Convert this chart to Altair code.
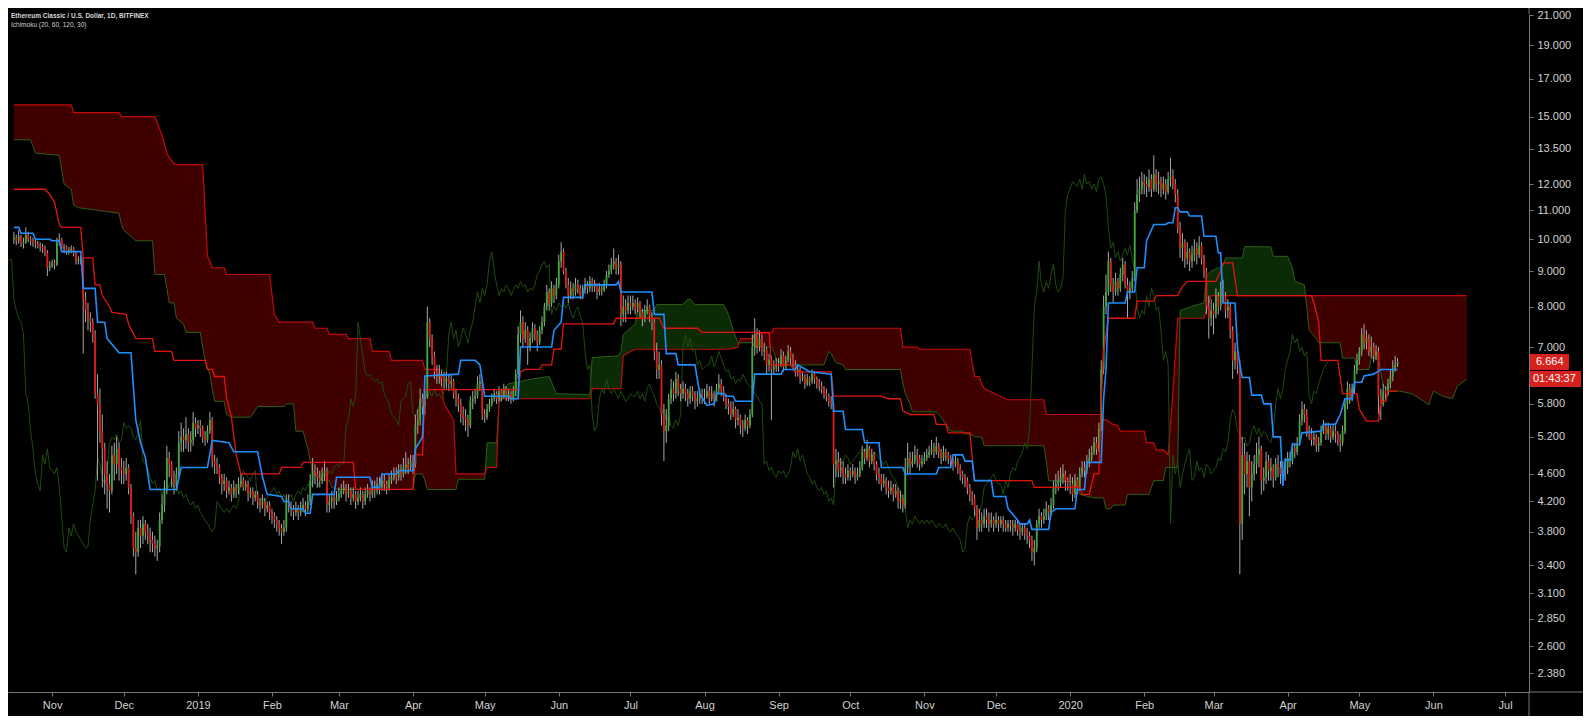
import altair as alt
import pandas as pd
from datetime import date, timedelta

# ---------------- data ----------------
START = date(2018, 10, 16)      # first daily candle
first_open = 10.0

close = [
    10.05, 9.95, 10.1, 9.85, 9.9, 10.15, 10.0, 9.95, 9.9, 9.85, 9.8, 9.75, 9.7, 9.55, 9.1, 9.15,
    9.25, 9.2, 9.9, 10.0, 9.7, 9.75, 9.6, 9.65, 9.7, 9.55, 9.3, 9.35, 9.35, 8.2, 7.9, 7.7, 7.6, 7.3, 6.0, 5.8, 5.3, 5.0, 4.6, 4.45, 4.35, 4.9, 4.75, 5.0, 4.7, 4.65,
    4.6, 4.7, 4.4, 4.0, 3.6, 3.55, 3.85, 3.75, 3.9, 3.8, 3.75, 3.7, 3.65, 3.6, 3.62, 3.95, 4.15, 4.35, 4.85, 4.75, 4.55, 4.45, 4.6, 5.1, 5.2, 5.15, 5.25, 5.1, 5.15, 5.45, 5.35,
    5.4, 5.35, 5.2, 5.15, 5.3, 5.5, 4.8, 4.75, 4.7, 4.55, 4.45, 4.5, 4.35, 4.4, 4.3, 4.4, 4.35, 4.45, 4.5, 4.4, 4.45, 4.3, 4.35, 4.25, 4.3, 4.2, 4.15, 4.2, 4.1, 4.15, 4.05,
    4.0, 3.95, 3.9, 3.85, 3.8, 3.85, 4.2, 4.15, 4.1, 4.05, 4.1, 4.05, 4.1, 4.15, 4.1, 4.2, 4.5, 4.65, 4.6, 4.55, 4.5, 4.6, 4.65, 4.15, 4.2, 4.25, 4.2, 4.25,
    4.3, 4.35, 4.4, 4.3, 4.35, 4.25, 4.3, 4.2, 4.25, 4.3, 4.2, 4.3, 4.35, 4.3, 4.4, 4.35, 4.45, 4.4, 4.5, 4.45, 4.4, 4.5, 4.55, 4.6, 4.55, 4.65, 4.6, 4.7, 4.75, 4.7, 4.8,
    4.75, 5.4, 5.5, 5.9, 5.75, 5.95, 7.6, 7.2, 6.8, 6.45, 6.35, 6.4, 6.3, 6.25, 6.3, 6.2, 6.25, 6.0, 5.9, 5.8, 5.6, 5.55, 5.5, 5.4, 5.85, 5.9, 5.95, 6.2, 6.25, 5.6,
    5.55, 5.7, 5.8, 5.9, 6.0, 5.9, 6.05, 5.95, 6.1, 5.95, 6.0, 5.9, 6.05, 6.4, 7.3, 7.6, 7.2, 7.4, 7.0, 7.2, 7.45, 7.3, 7.1, 7.4, 7.6, 8.0, 8.4, 8.1, 8.5, 8.3, 8.6,
    9.3, 9.6, 9.0, 8.6, 8.3, 8.5, 8.4, 8.6, 8.5, 8.3, 8.45, 8.6, 8.5, 8.7, 8.55, 8.6, 8.4, 8.5, 8.45, 8.6, 8.9, 9.0, 9.2, 9.3, 9.1, 9.2, 7.8, 8.0, 7.9, 8.1,
    8.0, 8.1, 7.95, 8.1, 7.85, 7.7, 7.9, 8.0, 7.75, 7.6, 6.9, 6.5, 6.6, 5.6, 5.3, 5.4, 5.9, 6.1, 6.0, 6.3, 6.1, 6.0, 6.1, 6.0, 5.9, 6.05, 5.95, 5.85, 5.9, 6.0, 5.95,
    5.95, 6.05, 5.9, 6.0, 5.85, 6.1, 6.2, 6.05, 5.95, 5.8, 5.75, 5.6, 5.7, 5.5, 5.55, 5.4, 5.35, 5.5, 5.4, 5.6, 7.0, 7.3, 7.0, 7.2, 6.9, 6.95, 6.6, 6.7, 6.5, 6.55, 6.6,
    6.6, 6.8, 6.55, 6.7, 6.9, 6.75, 6.6, 6.45, 6.5, 6.3, 6.35, 6.2, 6.3, 6.25, 6.4, 6.3, 6.2, 6.15, 6.1, 6.0, 5.95, 5.85, 5.8, 4.75, 4.8, 4.65, 4.7, 4.6, 4.55, 4.65,
    4.6, 4.65, 4.55, 4.6, 4.7, 4.95, 4.85, 5.0, 4.8, 4.9, 4.75, 4.6, 4.55, 4.45, 4.5, 4.4, 4.35, 4.4, 4.3, 4.35, 4.2, 4.25, 4.15, 4.7, 4.85, 4.75, 4.8, 4.9, 4.85, 4.75, 4.8,
    4.85, 4.9, 4.95, 5.0, 4.95, 5.05, 4.95, 4.85, 4.95, 4.9, 4.85, 4.8, 4.75, 4.8, 4.7, 4.6, 4.55, 4.5, 4.4, 4.3, 4.25, 4.1, 3.85, 3.95, 3.9, 4.0, 3.95, 3.9, 3.95, 3.9,
    3.95, 3.9, 3.95, 3.9, 3.85, 3.9, 3.88, 3.85, 3.9, 3.82, 3.8, 3.85, 3.78, 3.75, 3.7, 3.55, 3.6, 3.9, 4.0, 3.95, 4.0, 4.1, 4.05, 4.15, 4.4, 4.45, 4.5, 4.55, 4.6, 4.5, 4.45,
    4.45, 4.3, 4.5, 4.4, 4.6, 4.7, 4.65, 4.8, 4.85, 4.95, 5.1, 5.0, 5.35, 6.5, 8.0, 8.4, 9.3, 8.6, 8.4, 8.7, 8.5, 8.9, 9.2, 8.6, 8.4, 8.5, 8.8, 11.0, 11.6, 11.8, 12.1,
    12.0, 11.9, 12.2, 11.8, 12.4, 12.0, 12.1, 11.8, 12.0, 11.7, 12.2, 12.3, 12.0, 11.6, 10.4, 9.7, 9.9, 9.4, 9.6, 9.3, 9.5, 9.7, 9.5, 9.8, 9.4, 9.0, 8.0, 7.7, 7.9,
    7.8, 8.3, 8.0, 8.5, 8.3, 7.9, 8.0, 7.4, 6.7, 6.9, 6.6, 3.9, 4.9, 4.6, 4.8, 4.4, 4.6, 4.75, 4.9, 5.0, 4.5, 4.55, 4.8, 4.65, 4.7, 4.55, 4.75, 4.7, 4.6, 4.65, 4.7,
    4.85, 4.8, 5.0, 4.95, 5.1, 5.5, 5.7, 5.6, 5.3, 5.25, 5.15, 5.2, 5.05, 5.1, 5.3, 5.4, 5.25, 5.35, 5.2, 5.3, 5.25, 5.15, 5.1, 5.3, 5.8, 6.1, 5.9, 6.1, 6.5, 6.7,
    6.9, 7.3, 7.1, 7.2, 6.9, 7.0, 6.8, 6.9, 5.95, 5.8, 6.05, 6.0, 6.2, 6.35, 6.5, 6.6, 6.664,
]

high = [
    10.25, 10.15, 10.3, 10.15, 10.05, 10.4, 10.25, 10.1, 10.05, 10.0, 9.95, 9.9, 9.85, 9.8, 9.65, 9.3,
    9.35, 9.35, 10.05, 10.2, 10.05, 9.85, 9.8, 9.75, 9.8, 9.75, 9.6, 9.45, 9.45, 9.4, 8.4, 8.1, 7.85, 7.7, 7.4, 6.4, 6.1, 5.6, 5.1, 4.8, 4.6, 5.05, 5.1, 5.2, 5.1, 4.85,
    4.8, 4.85, 4.75, 4.45, 4.05, 3.8, 3.95, 3.95, 4.0, 3.95, 3.9, 3.85, 3.8, 3.75, 3.7, 4.05, 4.3, 4.5, 5.05, 4.95, 4.8, 4.65, 4.7, 5.3, 5.45, 5.35, 5.55, 5.35, 5.3, 5.65, 5.55,
    5.5, 5.5, 5.4, 5.3, 5.4, 5.65, 5.55, 4.9, 4.85, 4.75, 4.6, 4.6, 4.55, 4.5, 4.45, 4.5, 4.45, 4.55, 4.6, 4.55, 4.5, 4.5, 4.4, 4.4, 4.35, 4.35, 4.25, 4.3, 4.25, 4.2, 4.2,
    4.1, 4.05, 4.0, 3.95, 3.9, 3.95, 4.3, 4.3, 4.2, 4.15, 4.2, 4.15, 4.2, 4.25, 4.2, 4.3, 4.6, 4.85, 4.75, 4.7, 4.65, 4.7, 4.8, 4.7, 4.3, 4.35, 4.3, 4.35,
    4.4, 4.45, 4.5, 4.45, 4.45, 4.4, 4.4, 4.35, 4.35, 4.4, 4.35, 4.4, 4.45, 4.4, 4.5, 4.5, 4.55, 4.55, 4.6, 4.6, 4.5, 4.6, 4.65, 4.7, 4.7, 4.75, 4.75, 4.85, 4.95, 4.85, 4.9,
    4.9, 5.6, 5.7, 6.1, 6.0, 6.1, 8.0, 7.7, 7.3, 6.9, 6.6, 6.6, 6.5, 6.45, 6.45, 6.4, 6.4, 6.3, 6.1, 6.0, 5.9, 5.75, 5.7, 5.6, 5.95, 6.05, 6.1, 6.35, 6.4, 6.3,
    5.7, 5.8, 5.9, 6.0, 6.1, 6.05, 6.15, 6.1, 6.2, 6.15, 6.1, 6.05, 6.15, 6.5, 7.5, 7.9, 7.75, 7.6, 7.5, 7.35, 7.6, 7.55, 7.4, 7.5, 7.75, 8.1, 8.6, 8.5, 8.7, 8.6, 8.8,
    9.5, 9.9, 9.7, 9.1, 8.8, 8.7, 8.65, 8.8, 8.75, 8.6, 8.6, 8.8, 8.7, 8.85, 8.8, 8.75, 8.65, 8.65, 8.6, 8.75, 9.0, 9.2, 9.4, 9.7, 9.4, 9.5, 9.3, 8.3, 8.2, 8.3,
    8.3, 8.3, 8.2, 8.25, 8.15, 7.95, 8.05, 8.2, 8.05, 7.85, 7.7, 7.1, 6.9, 6.7, 5.8, 5.7, 6.0, 6.3, 6.25, 6.45, 6.4, 6.2, 6.25, 6.2, 6.1, 6.15, 6.15, 6.05, 6.05, 6.1, 6.1,
    6.1, 6.2, 6.15, 6.15, 6.05, 6.2, 6.4, 6.3, 6.15, 6.0, 5.9, 5.85, 5.85, 5.75, 5.7, 5.6, 5.5, 5.6, 5.55, 5.7, 7.3, 7.7, 7.45, 7.4, 7.3, 7.1, 7.0, 6.85, 6.8, 6.7, 6.75,
    6.75, 6.95, 6.9, 6.8, 7.05, 7.0, 6.85, 6.7, 6.6, 6.55, 6.45, 6.4, 6.4, 6.35, 6.5, 6.45, 6.35, 6.3, 6.25, 6.15, 6.1, 6.0, 5.95, 5.85, 5.0, 4.95, 4.85, 4.8, 4.7, 4.75,
    4.7, 4.75, 4.7, 4.7, 4.8, 5.05, 5.0, 5.15, 5.05, 5.0, 4.95, 4.8, 4.7, 4.6, 4.6, 4.55, 4.5, 4.5, 4.45, 4.45, 4.4, 4.35, 4.3, 4.85, 5.1, 4.95, 4.95, 5.05, 5.0, 4.9, 4.9,
    4.95, 5.0, 5.05, 5.15, 5.1, 5.2, 5.1, 5.0, 5.05, 5.0, 4.95, 4.9, 4.85, 4.9, 4.85, 4.75, 4.65, 4.6, 4.55, 4.45, 4.35, 4.3, 4.15, 4.1, 4.05, 4.1, 4.1, 4.05, 4.05, 4.0,
    4.05, 4.0, 4.0, 4.0, 3.95, 3.95, 3.95, 3.95, 3.95, 3.95, 3.9, 3.9, 3.9, 3.85, 3.8, 3.75, 3.7, 3.95, 4.1, 4.05, 4.1, 4.2, 4.15, 4.25, 4.5, 4.6, 4.65, 4.7, 4.75, 4.65, 4.55,
    4.6, 4.55, 4.6, 4.55, 4.7, 4.8, 4.8, 4.9, 5.0, 5.05, 5.2, 5.2, 5.45, 6.7, 8.3, 8.9, 9.6, 9.4, 8.8, 8.95, 8.8, 9.1, 9.4, 9.3, 8.8, 8.7, 9.0, 11.3, 12.2, 12.3, 12.5,
    12.4, 12.3, 12.6, 12.4, 13.2, 12.6, 12.5, 12.3, 12.3, 12.2, 12.5, 13.1, 12.6, 12.2, 11.8, 10.6, 10.2, 10.0, 9.9, 9.7, 9.8, 10.0, 9.9, 10.1, 9.9, 9.5, 9.1, 8.3, 8.2,
    8.1, 8.5, 8.4, 8.7, 8.75, 8.4, 8.2, 8.1, 7.5, 7.1, 7.0, 6.7, 5.2, 5.1, 4.95, 4.9, 4.8, 4.9, 5.1, 5.2, 5.05, 4.7, 4.95, 4.9, 4.85, 4.75, 4.85, 4.9, 4.8, 4.8, 4.85,
    4.95, 4.95, 5.1, 5.1, 5.2, 5.6, 5.85, 5.8, 5.7, 5.4, 5.35, 5.3, 5.25, 5.2, 5.4, 5.5, 5.45, 5.45, 5.4, 5.4, 5.4, 5.3, 5.25, 5.4, 5.9, 6.25, 6.2, 6.2, 6.6, 6.85,
    7.0, 7.45, 7.55, 7.4, 7.3, 7.25, 7.1, 7.05, 7.0, 6.1, 6.2, 6.15, 6.3, 6.5, 6.7, 6.8, 6.75,
]

low = [
    9.85, 9.8, 9.85, 9.75, 9.7, 9.85, 9.9, 9.8, 9.75, 9.7, 9.7, 9.6, 9.55, 9.45, 8.85, 9.0,
    9.1, 9.05, 9.15, 9.8, 9.6, 9.55, 9.5, 9.5, 9.55, 9.45, 9.2, 9.2, 9.2, 6.85, 7.6, 7.4, 7.35, 7.1, 5.9, 4.5, 5.1, 4.4, 4.3, 4.1, 4.05, 4.3, 4.5, 4.6, 4.5, 4.45,
    4.45, 4.5, 4.3, 3.9, 3.5, 3.3, 3.5, 3.6, 3.65, 3.7, 3.65, 3.55, 3.55, 3.5, 3.45, 3.55, 3.9, 4.05, 4.3, 4.55, 4.4, 4.3, 4.35, 4.55, 4.95, 4.95, 5.0, 4.95, 4.95, 5.05, 5.2,
    5.25, 5.2, 5.1, 5.05, 5.1, 5.25, 4.7, 4.6, 4.6, 4.45, 4.3, 4.35, 4.25, 4.3, 4.2, 4.25, 4.25, 4.3, 4.4, 4.35, 4.35, 4.2, 4.25, 4.15, 4.2, 4.1, 4.05, 4.1, 4.0, 4.05, 3.95,
    3.9, 3.85, 3.8, 3.75, 3.65, 3.75, 3.8, 4.05, 4.0, 3.95, 4.0, 3.95, 4.0, 4.05, 4.0, 4.05, 4.15, 4.4, 4.45, 4.4, 4.4, 4.45, 4.5, 4.05, 4.05, 4.1, 4.1, 4.15,
    4.2, 4.25, 4.3, 4.2, 4.25, 4.15, 4.2, 4.1, 4.15, 4.2, 4.1, 4.15, 4.25, 4.2, 4.25, 4.25, 4.3, 4.3, 4.35, 4.35, 4.3, 4.35, 4.45, 4.5, 4.45, 4.5, 4.5, 4.55, 4.6, 4.6, 4.65,
    4.6, 4.7, 5.25, 5.4, 5.6, 5.6, 5.9, 7.0, 6.6, 6.3, 6.2, 6.2, 6.15, 6.1, 6.1, 6.05, 6.1, 5.9, 5.75, 5.65, 5.45, 5.4, 5.3, 5.2, 5.35, 5.7, 5.8, 5.9, 6.05, 5.5,
    5.45, 5.5, 5.65, 5.75, 5.85, 5.8, 5.85, 5.85, 5.9, 5.85, 5.85, 5.8, 5.85, 5.95, 6.3, 7.1, 7.0, 7.1, 6.6, 6.9, 7.1, 7.15, 6.9, 7.05, 7.3, 7.5, 7.9, 7.9, 8.0, 8.1, 8.2,
    8.5, 9.1, 8.9, 8.5, 8.1, 8.2, 8.2, 8.3, 8.35, 8.2, 8.2, 8.35, 8.35, 8.4, 8.4, 8.4, 8.2, 8.3, 8.3, 8.4, 8.5, 8.8, 8.9, 9.05, 8.9, 8.9, 7.5, 7.6, 7.6, 7.8,
    7.8, 7.9, 7.8, 7.85, 7.7, 7.5, 7.6, 7.8, 7.6, 7.4, 6.7, 6.3, 6.3, 5.4, 4.8, 5.1, 5.3, 5.8, 5.85, 5.9, 5.95, 5.85, 5.9, 5.85, 5.75, 5.8, 5.85, 5.7, 5.75, 5.8, 5.8,
    5.8, 5.9, 5.8, 5.85, 5.75, 5.85, 6.0, 5.95, 5.85, 5.7, 5.6, 5.5, 5.55, 5.35, 5.4, 5.25, 5.2, 5.3, 5.25, 5.35, 5.55, 6.8, 6.85, 6.9, 6.8, 6.7, 6.4, 6.45, 5.5, 6.4, 6.45,
    6.45, 6.55, 6.45, 6.5, 6.65, 6.6, 6.5, 6.35, 6.35, 6.2, 6.25, 6.1, 6.15, 6.15, 6.2, 6.2, 6.1, 6.05, 6.0, 5.9, 5.85, 5.75, 5.7, 4.4, 4.55, 4.55, 4.55, 4.45, 4.45, 4.5,
    4.5, 4.55, 4.45, 4.5, 4.55, 4.65, 4.75, 4.8, 4.7, 4.75, 4.65, 4.5, 4.45, 4.35, 4.4, 4.3, 4.25, 4.3, 4.2, 4.25, 4.1, 4.1, 4.05, 4.1, 4.6, 4.6, 4.7, 4.75, 4.7, 4.65, 4.7,
    4.75, 4.8, 4.85, 4.9, 4.85, 4.9, 4.85, 4.75, 4.8, 4.8, 4.75, 4.7, 4.65, 4.7, 4.6, 4.5, 4.45, 4.4, 4.3, 4.2, 4.15, 4.0, 3.7, 3.8, 3.8, 3.85, 3.85, 3.8, 3.85, 3.8,
    3.85, 3.8, 3.85, 3.8, 3.8, 3.8, 3.8, 3.75, 3.8, 3.75, 3.7, 3.75, 3.7, 3.65, 3.6, 3.45, 3.4, 3.55, 3.85, 3.85, 3.9, 3.95, 3.95, 4.0, 4.1, 4.3, 4.35, 4.4, 4.45, 4.35, 4.35,
    4.3, 4.2, 4.25, 4.3, 4.35, 4.55, 4.55, 4.6, 4.7, 4.8, 4.9, 4.9, 4.95, 5.3, 6.4, 7.8, 8.3, 8.4, 8.1, 8.3, 8.3, 8.4, 8.7, 8.5, 7.7, 8.2, 8.4, 8.7, 10.9, 11.3, 11.6,
    11.6, 11.5, 11.7, 11.5, 11.7, 11.7, 11.6, 11.5, 11.6, 11.4, 11.6, 11.9, 11.8, 11.3, 10.2, 9.4, 9.3, 9.1, 9.2, 9.0, 9.1, 9.3, 9.2, 9.4, 9.2, 8.8, 7.8, 7.2, 7.5,
    7.3, 7.7, 7.8, 7.9, 8.1, 7.7, 7.7, 7.2, 6.3, 6.5, 6.4, 3.3, 3.7, 4.3, 4.4, 4.0, 4.2, 4.5, 4.6, 4.7, 4.3, 4.35, 4.45, 4.5, 4.5, 4.4, 4.5, 4.55, 4.45, 4.5, 4.5,
    4.6, 4.7, 4.75, 4.85, 4.9, 5.05, 5.4, 5.45, 5.2, 5.15, 5.05, 5.05, 4.95, 4.95, 5.05, 5.25, 5.15, 5.15, 5.1, 5.15, 5.1, 5.05, 4.95, 5.05, 5.25, 5.7, 5.8, 5.85, 6.0, 6.4,
    6.6, 6.8, 6.95, 6.95, 6.8, 6.75, 6.65, 6.7, 5.6, 5.5, 5.75, 5.85, 5.95, 6.1, 6.25, 6.45, 6.55,
]

# Ichimoku lines: (day index from START, value)
tenkan_points = [
    (0, 10.4), (2, 10.4), (3, 10.2), (8, 10.2), (9, 10.0), (15, 10.0), (16, 9.95), (19, 9.95), (20, 9.6), (28, 9.6),
    (29, 8.5), (34, 8.5), (35, 7.6), (38, 7.6), (39, 7.2), (42, 7.0), (44, 6.87), (49, 6.87), (51, 5.5), (53, 5.1),
    (55, 4.86), (57, 4.37), (68, 4.37), (70, 4.7), (81, 4.7), (83, 5.14), (90, 5.1), (92, 4.95), (102, 4.95), (104, 4.56),
    (106, 4.3), (112, 4.27), (113, 4.2), (115, 4.2), (116, 4.1), (121, 4.1), (122, 4.04), (124, 4.04), (125, 4.3), (134, 4.3),
    (135, 4.55), (149, 4.55), (150, 4.4), (153, 4.4), (154, 4.6), (160, 4.6), (161, 4.65), (167, 4.65), (168, 5.0), (171, 5.2),
    (172, 6.36), (186, 6.4), (187, 6.7), (193, 6.7), (195, 6.6), (197, 5.95), (207, 5.95), (208, 5.9), (211, 5.9), (212, 7.0),
    (225, 7.0), (226, 7.4), (229, 7.6), (230, 8.25), (238, 8.25), (239, 8.6), (252, 8.6), (253, 8.7), (254, 8.4), (267, 8.4),
    (268, 7.8), (272, 7.8), (273, 6.85), (277, 6.85), (278, 6.6), (285, 6.6), (287, 6.0), (290, 5.77), (293, 5.8), (294, 6.0),
    (297, 6.0), (298, 5.95), (301, 5.95), (302, 5.85), (309, 5.85), (310, 6.4), (321, 6.4), (322, 6.5), (327, 6.5), (328, 6.6),
    (333, 6.45), (342, 6.4), (343, 5.66), (347, 5.66), (348, 5.33), (355, 5.33), (356, 5.1), (362, 5.1), (363, 4.7), (372, 4.7),
    (373, 4.6), (386, 4.6), (387, 4.7), (392, 4.7), (393, 4.9), (397, 4.9), (398, 4.8), (401, 4.8), (402, 4.5), (409, 4.5),
    (410, 4.27), (415, 4.27), (416, 4.1), (420, 3.95), (421, 3.9), (424, 3.9), (425, 3.95), (426, 3.83), (433, 3.83), (434, 4.05),
    (436, 4.1), (444, 4.1), (445, 4.37), (448, 4.37), (449, 4.78), (455, 4.78), (456, 5.9), (457, 6.5), (458, 8.1), (465, 8.1),
    (466, 8.4), (469, 8.4), (470, 9.1), (473, 9.1), (474, 9.95), (477, 10.5), (482, 10.5), (483, 10.56), (485, 10.56), (486, 11.1),
    (487, 11.1), (488, 10.95), (491, 10.95), (492, 10.8), (497, 10.8), (498, 10.1), (503, 10.1), (504, 9.56), (505, 9.56), (506, 8.1),
    (511, 8.1), (512, 7.0), (513, 6.6), (514, 6.33), (517, 6.33), (518, 5.97), (522, 5.97), (523, 5.8), (526, 5.8), (527, 5.2),
    (530, 5.2), (531, 4.42), (532, 4.82), (534, 4.82), (535, 5.07), (538, 5.07), (539, 5.27), (547, 5.3), (548, 5.42), (553, 5.42),
    (555, 5.6), (557, 5.9), (560, 5.9), (561, 6.23), (564, 6.23), (565, 6.36), (569, 6.4), (572, 6.5), (579, 6.5),
]

kijun_points = [
    (0, 11.8), (13, 11.8), (15, 11.6), (17, 11.3), (19, 10.5), (20, 10.4), (28, 10.4), (29, 9.4), (33, 9.4), (34, 8.6),
    (36, 8.6), (37, 8.3), (40, 8.0), (41, 7.85), (47, 7.8), (48, 7.55), (51, 7.2), (58, 7.2), (59, 6.9), (66, 6.9),
    (67, 6.7), (80, 6.7), (81, 6.5), (83, 6.5), (84, 6.35), (88, 6.35), (89, 5.9), (91, 5.55), (93, 4.9), (95, 4.6),
    (111, 4.6), (112, 4.7), (120, 4.7), (121, 4.78), (142, 4.78), (143, 4.37), (167, 4.37), (168, 4.9), (171, 4.9), (172, 6.08),
    (211, 6.08), (212, 6.45), (214, 6.5), (220, 6.5), (221, 6.6), (225, 6.6), (226, 6.95), (229, 6.95), (230, 7.56), (251, 7.56),
    (252, 7.7), (270, 7.7), (272, 7.45), (286, 7.45), (288, 7.35), (316, 7.35), (317, 6.6), (325, 6.6), (327, 6.45), (342, 6.45),
    (343, 5.95), (363, 5.95), (366, 5.9), (371, 5.9), (372, 5.67), (375, 5.6), (385, 5.6), (386, 5.42), (390, 5.42), (391, 5.27),
    (400, 5.27), (402, 4.5), (426, 4.5), (427, 4.4), (446, 4.4), (447, 4.3), (450, 4.3), (452, 4.6), (454, 4.6), (455, 5.9),
    (456, 6.9), (458, 7.7), (469, 7.7), (470, 8.15), (477, 8.15), (478, 8.3), (487, 8.3), (489, 8.55), (491, 8.7), (503, 8.7),
    (505, 9.0), (506, 9.25), (510, 9.25), (512, 8.3), (543, 8.3), (544, 8.1), (546, 7.6), (547, 6.7), (554, 6.7), (556, 6.0),
    (562, 6.0), (563, 5.7), (566, 5.48), (571, 5.48), (572, 5.85), (574, 5.85), (575, 6.05), (579, 6.05),
]

# (day index, leading span A, leading span B) -- already displaced forward
cloud_points = [
    (0, 13.9, 15.6), (7, 13.9, 15.6), (9, 13.3, 15.6), (19, 13.2, 15.6), (21, 12.0, 15.6), (24, 11.8, 15.6), (25, 11.2, 15.2),
    (27, 11.1, 15.2), (44, 10.9, 15.2), (45, 10.5, 15.0), (46, 10.3, 15.0), (49, 10.1, 15.0), (51, 9.95, 15.0), (58, 9.95, 15.0),
    (59, 8.9, 15.0), (62, 8.9, 14.1), (63, 8.9, 13.7), (64, 8.5, 13.3), (65, 8.1, 13.1), (67, 8.1, 12.85), (68, 7.7, 12.8),
    (71, 7.55, 12.8), (72, 7.35, 12.8), (78, 7.35, 12.8), (79, 7.0, 12.8), (80, 6.7, 11.0), (81, 6.55, 9.45), (82, 6.4, 9.3),
    (83, 6.1, 9.1), (84, 5.85, 9.1), (88, 5.85, 9.1), (89, 5.6, 8.9), (91, 5.55, 8.9), (99, 5.55, 8.9), (102, 5.75, 8.9),
    (107, 5.75, 8.9), (109, 5.75, 7.8), (111, 5.75, 7.6), (113, 5.75, 7.6), (114, 5.8, 7.6), (117, 5.8, 7.6), (118, 5.3, 7.6),
    (121, 5.3, 7.6), (123, 5.0, 7.6), (125, 4.6, 7.6), (126, 4.6, 7.45), (129, 4.5, 7.45), (131, 4.5, 7.45), (132, 4.5, 7.3),
    (133, 4.4, 7.3), (136, 4.37, 7.3), (139, 4.37, 7.3), (140, 4.37, 7.2), (149, 4.37, 7.2), (150, 4.37, 6.9), (157, 4.37, 6.9),
    (158, 4.37, 6.7), (167, 4.37, 6.7), (168, 4.6, 6.7), (171, 4.6, 6.7), (172, 4.5, 6.5), (173, 4.37, 6.5), (178, 4.37, 6.5),
    (180, 4.37, 5.8), (184, 4.37, 5.5), (185, 4.37, 4.6), (186, 4.52, 4.6), (197, 4.52, 4.6), (198, 5.1, 4.7), (202, 5.1, 4.7),
    (203, 5.8, 5.9), (205, 6.1, 5.9), (207, 6.2, 5.9), (217, 6.3, 5.9), (224, 6.35, 5.9), (227, 6.0, 5.9), (241, 5.98, 5.9),
    (242, 6.76, 6.1), (253, 6.8, 6.1), (254, 6.9, 6.1), (255, 7.3, 6.8), (258, 7.45, 6.9), (260, 7.56, 6.95), (261, 7.9, 6.95),
    (268, 7.9, 6.95), (269, 8.06, 6.95), (280, 8.06, 6.95), (282, 8.2, 6.95), (283, 8.2, 6.95), (285, 8.06, 6.95), (297, 8.06, 6.95),
    (299, 7.8, 6.95), (301, 7.4, 6.97), (303, 7.1, 7.0), (304, 7.1, 7.2), (309, 7.1, 7.2), (310, 7.0, 7.3), (317, 7.0, 7.35),
    (318, 6.9, 7.45), (319, 6.7, 7.45), (322, 6.6, 7.45), (339, 6.6, 7.45), (341, 6.9, 7.45), (342, 6.85, 7.45), (344, 6.65, 7.45),
    (347, 6.6, 7.45), (348, 6.5, 7.45), (371, 6.5, 7.45), (372, 6.2, 7.0), (373, 6.0, 7.0), (375, 5.8, 7.0), (376, 5.65, 7.0),
    (378, 5.65, 7.0), (379, 5.65, 6.95), (386, 5.65, 6.95), (388, 5.55, 6.95), (392, 5.3, 6.95), (397, 5.3, 6.95), (398, 5.25, 6.95),
    (400, 5.25, 6.95), (402, 5.2, 6.35), (404, 5.2, 6.35), (405, 5.2, 6.2), (406, 5.05, 6.1), (415, 5.05, 5.9), (416, 5.05, 5.88),
    (431, 5.05, 5.88), (432, 4.8, 5.6), (433, 4.5, 5.6), (444, 4.48, 5.6), (446, 4.3, 5.6), (452, 4.25, 5.6), (455, 4.25, 5.6),
    (456, 4.25, 5.5), (457, 4.1, 5.5), (459, 4.1, 5.45), (460, 4.15, 5.42), (462, 4.15, 5.4), (463, 4.15, 5.3), (465, 4.15, 5.3),
    (466, 4.3, 5.3), (473, 4.3, 5.3), (474, 4.3, 5.1), (475, 4.3, 5.1), (477, 4.5, 5.1), (478, 4.5, 4.98), (481, 4.5, 4.98),
    (482, 4.7, 4.95), (483, 4.7, 4.9), (485, 4.7, 6.0), (487, 4.7, 7.7), (488, 7.9, 7.7), (495, 8.05, 7.7), (498, 8.1, 7.7),
    (499, 8.85, 7.9), (501, 9.0, 8.3), (506, 9.15, 8.3), (507, 9.4, 8.3), (514, 9.4, 8.3), (515, 9.76, 8.3), (526, 9.75, 8.3),
    (527, 9.45, 8.3), (533, 9.45, 8.3), (535, 9.1, 8.3), (536, 8.7, 8.3), (540, 8.6, 8.3), (541, 8.0, 8.3), (542, 7.4, 8.3),
    (545, 7.2, 8.3), (546, 7.1, 8.3), (555, 7.1, 8.3), (556, 6.75, 8.3), (561, 6.75, 8.3), (562, 6.5, 8.3), (567, 6.5, 8.3),
    (568, 6.75, 8.3), (571, 6.75, 8.3), (573, 6.15, 8.3), (576, 6.05, 8.3), (580, 6.05, 8.3), (585, 6.0, 8.3), (590, 5.85, 8.3),
    (592, 5.78, 8.3), (594, 6.05, 8.3), (598, 5.95, 8.3), (602, 5.9, 8.3), (604, 6.15, 8.3), (608, 6.3, 8.3),
]

LAGGING_SHIFT = 29
y_ticks = [2.38, 2.6, 2.85, 3.1, 3.4, 3.8, 4.2, 4.6, 5.2, 5.8, 7.0, 8.0, 9.0, 10.0,
           11.0, 12.0, 13.5, 15.0, 17.0, 19.0, 21.0]
month_ticks = [(2018, 11), (2018, 12), (2019, 1), (2019, 2), (2019, 3), (2019, 4), (2019, 5),
               (2019, 6), (2019, 7), (2019, 8), (2019, 9), (2019, 10), (2019, 11), (2019, 12),
               (2020, 1), (2020, 2), (2020, 3), (2020, 4), (2020, 5), (2020, 6), (2020, 7)]
last_price = 6.664
countdown = "01:43:37"
title_1 = "Ethereum Classic / U.S. Dollar, 1D, BITFINEX"
title_2 = "Ichimoku (20, 60, 120, 30)"

# ---------------- tables ----------------
def ts(d):
    return (START + timedelta(days=d)).strftime("%Y-%m-%dT00:00:00")

n = min(len(close), len(high), len(low))
opens = [first_open] + close[: n - 1]
candles = pd.DataFrame({
    "date": [ts(i) for i in range(n)],
    "open": opens, "high": high[:n], "low": low[:n], "close": close[:n],
})
lagging = pd.DataFrame({"date": [ts(i - LAGGING_SHIFT) for i in range(n)], "value": close[:n]})
tenkan = pd.DataFrame({"date": [ts(d) for d, v in tenkan_points], "value": [v for d, v in tenkan_points]})
kijun = pd.DataFrame({"date": [ts(d) for d, v in kijun_points], "value": [v for d, v in kijun_points]})
cloud = pd.DataFrame({"date": [ts(d) for d, a, b in cloud_points],
                      "a": [a for d, a, b in cloud_points],
                      "b": [b for d, a, b in cloud_points]})
price_df = pd.DataFrame({"p": [last_price], "label": [f"{last_price:.3f}"], "timer": [countdown]})
one = pd.DataFrame({"k": [0]})

# ---------------- styling ----------------
TOP = 6
W, H = 1521, 684 - TOP
AXIS_GRAY = "#787878"
LABEL = "#d2d2d2"
FONT = "Liberation Sans"

xs = alt.Scale(domain=[alt.DateTime(year=2018, month=10, date=15, hours=15),
                       alt.DateTime(year=2020, month=7, date=8, hours=22)])
ys = alt.Scale(type="log", domain=[2.236, 21.07], nice=False)

x_axis = alt.Axis(
    values=[alt.DateTime(year=y, month=m, date=1) for (y, m) in month_ticks],
    labelExpr="month(datum.value) == 0 ? timeFormat(datum.value, '%Y') : timeFormat(datum.value, '%b')",
    title=None, grid=False, domainColor=AXIS_GRAY, tickColor=AXIS_GRAY, tickSize=4,
    labelColor=LABEL, labelFont=FONT, labelFontSize=11, labelPadding=3,
    labelFlush=False, labelOverlap=False,
)
y_axis = alt.Axis(
    orient="right", values=y_ticks, format=".3f", title=None, grid=False,
    domainColor=AXIS_GRAY, tickColor=AXIS_GRAY, tickSize=4,
    labelColor=LABEL, labelFont=FONT, labelFontSize=11, labelPadding=4,
    labelFlush=False, labelOverlap=False,
)

def X(field="date"):
    return alt.X(field, type="temporal", scale=xs, axis=x_axis)

def Y(field):
    return alt.Y(field, type="quantitative", scale=ys, axis=y_axis)

cloud_base = alt.Chart(cloud).transform_calculate(lo="min(datum.a, datum.b)")
red_cloud = cloud_base.mark_area(color="#3f0000", opacity=1, clip=True).encode(
    x=X(), y=Y("b"), y2=alt.Y2("lo:Q"))
green_cloud = cloud_base.mark_area(color="#0a2b06", opacity=1, clip=True).encode(
    x=X(), y=Y("a"), y2=alt.Y2("lo:Q"))
span_a_line = alt.Chart(cloud).mark_line(color="#2e5e16", strokeWidth=1, clip=True).encode(x=X(), y=Y("a"))
span_b_line = alt.Chart(cloud).mark_line(color="#c00a0a", strokeWidth=1.2, clip=True).encode(x=X(), y=Y("b"))
lag_line = alt.Chart(lagging).mark_line(color="#1f4c0e", strokeWidth=1, clip=True).encode(x=X(), y=Y("value"))

cbase = alt.Chart(candles).transform_calculate(
    lo2="min(datum.low, datum.open, datum.close)",
    hi2="max(datum.high, datum.open, datum.close)",
)
wicks = cbase.mark_rule(color="#a8a8a8", strokeWidth=1, clip=True).encode(
    x=X(), y=Y("lo2"), y2=alt.Y2("hi2:Q"))
up_bodies = cbase.transform_filter("datum.close >= datum.open").mark_bar(
    color="#3fa83a", size=1.8, clip=True).encode(x=X(), y=Y("open"), y2=alt.Y2("close:Q"))
down_bodies = cbase.transform_filter("datum.close < datum.open").mark_bar(
    color="#e01a14", size=1.8, clip=True).encode(x=X(), y=Y("open"), y2=alt.Y2("close:Q"))

kijun_line = alt.Chart(kijun).mark_line(color="#e3140c", strokeWidth=1.3, clip=True).encode(x=X(), y=Y("value"))
tenkan_line = alt.Chart(tenkan).mark_line(color="#1e8fff", strokeWidth=1.6, clip=True).encode(x=X(), y=Y("value"))

TAG_RED = "#d8201c"
tag1 = alt.Chart(price_df).mark_rule(color=TAG_RED, strokeWidth=16, strokeCap="butt").encode(
    x=alt.value(W + 1), x2=alt.value(W + 40), y=Y("p"))
tag1_txt = alt.Chart(price_df).mark_text(align="left", baseline="middle", color="#ffffff",
                                         font=FONT, fontSize=11).encode(
    x=alt.value(W + 7), y=Y("p"), text="label:N")
tag2 = alt.Chart(price_df).mark_rule(color=TAG_RED, strokeWidth=16, strokeCap="butt", yOffset=17).encode(
    x=alt.value(W + 1), x2=alt.value(W + 52), y=Y("p"))
tag2_txt = alt.Chart(price_df).mark_text(align="left", baseline="middle", color="#ffffff",
                                         font=FONT, fontSize=11, dy=17).encode(
    x=alt.value(W + 4), y=Y("p"), text="timer:N")

edge_h = alt.Chart(one).mark_rule(color=AXIS_GRAY, strokeWidth=1).encode(
    x=alt.value(W), x2=alt.value(W + 54), y=alt.value(H))
edge_v = alt.Chart(one).mark_rule(color=AXIS_GRAY, strokeWidth=1).encode(
    x=alt.value(W), y=alt.value(H), y2=alt.value(H + 24))
edge_top = alt.Chart(one).mark_rule(color=AXIS_GRAY, strokeWidth=1).encode(
    x=alt.value(W), y=alt.value(-TOP), y2=alt.value(0))

t1 = alt.Chart(one).mark_text(align="left", baseline="middle", color="#d8d8d8", font=FONT,
                              fontSize=6.5, fontWeight="bold").encode(
    x=alt.value(3), y=alt.value(2), text=alt.value(title_1))
t2 = alt.Chart(one).mark_text(align="left", baseline="middle", color="#cfcfcf", font=FONT,
                              fontSize=6.5).encode(
    x=alt.value(3), y=alt.value(11), text=alt.value(title_2))

chart = alt.layer(
    red_cloud, green_cloud, span_a_line, span_b_line, lag_line,
    wicks, up_bodies, down_bodies, kijun_line, tenkan_line,
    tag1, tag1_txt, tag2, tag2_txt, edge_h, edge_v, edge_top, t1, t2,
).properties(
    width=W, height=H,
    padding={"left": 0, "top": TOP, "right": 54, "bottom": 24},
    autosize=alt.AutoSizeParams(type="none"),
).configure(background="#000000").configure_view(stroke=None)

chart.save("out.html", embed_options={"renderer": "svg", "actions": False})
